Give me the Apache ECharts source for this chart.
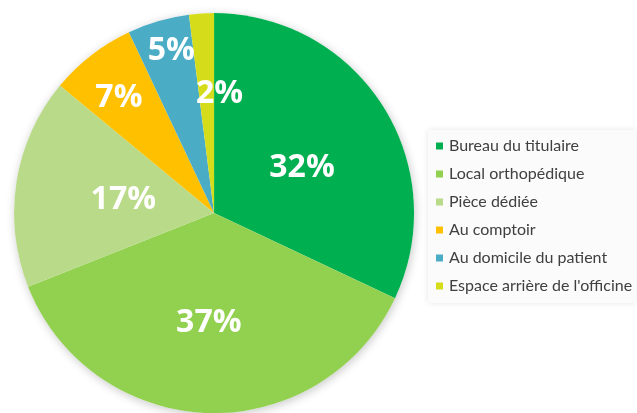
<!DOCTYPE html>
<html>
<head>
<meta charset="utf-8">
<script src="https://cdn.jsdelivr.net/npm/echarts@6/dist/echarts.min.js"></script>
<style>
  html, body { margin: 0; padding: 0; background: #ffffff; }
  #chart { width: 637px; height: 413px; }
</style>
</head>
<body>
<div id="chart"></div>
<script>
// Where the consultation takes place, share of responses (%)
const categories = [
  'Bureau du titulaire',
  'Local orthopédique',
  'Pièce dédiée',
  'Au comptoir',
  'Au domicile du patient',
  "Espace arrière de l'officine"
];
const shares = [32, 37, 17, 7, 5, 2];

const sliceColors = ['#00B050', '#92D050', '#B9DA88', '#FFC000', '#4BACC6', '#D5DC1A'];
// Small nudges of each percentage label away from the default inside spot
const labelNudge = [[1, 10], [-2, 7], [11, 3], [-32, -34], [-14, -63], [12, -16]];

const chart = echarts.init(document.getElementById('chart'), null, { renderer: 'canvas' });

const pieCenter = ['33.6%', '51.6%'];
const pieRadius = 200;

chart.setOption({
  backgroundColor: '#ffffff',
  animation: false,
  legend: {
    orient: 'vertical',
    left: 428,
    top: 130,
    padding: [8, 4, 9, 8],
    itemWidth: 7,
    itemHeight: 7,
    itemGap: 12,
    icon: 'rect',
    backgroundColor: '#fbfbfb',
    shadowBlur: 6,
    shadowColor: 'rgba(0,0,0,0.10)',
    data: categories,
    textStyle: {
      fontFamily: 'Lato',
      fontSize: 16,
      color: '#404040',
      lineHeight: 16,
      padding: [0, 0, 0, 1]
    }
  },
  series: [
    {
      // soft drop shadow behind the whole disc
      type: 'pie',
      silent: true,
      z: 1,
      center: pieCenter,
      radius: pieRadius,
      label: { show: false },
      labelLine: { show: false },
      itemStyle: {
        color: '#ffffff',
        shadowBlur: 10,
        shadowColor: 'rgba(0,0,0,0.22)',
        shadowOffsetX: 1,
        shadowOffsetY: 2
      },
      data: [{ value: 1, name: '' }],
      legendHoverLink: false
    },
    {
      type: 'pie',
      z: 2,
      center: pieCenter,
      radius: pieRadius,
      startAngle: 90,
      clockwise: true,
      avoidLabelOverlap: false,
      data: categories.map((name, i) => ({
        name: name,
        value: shares[i],
        itemStyle: { color: sliceColors[i] }
      })),
      itemStyle: { borderWidth: 0 },
      label: {
        show: true,
        position: 'inside',
        formatter: p => p.value + '%',
        color: '#ffffff',
        fontFamily: 'Open Sans',
        fontWeight: 'bold',
        fontSize: 32
      },
      labelLine: { show: false },
      labelLayout: params => ({
        dx: labelNudge[params.dataIndex][0],
        dy: labelNudge[params.dataIndex][1]
      })
    }
  ]
});
</script>
</body>
</html>
